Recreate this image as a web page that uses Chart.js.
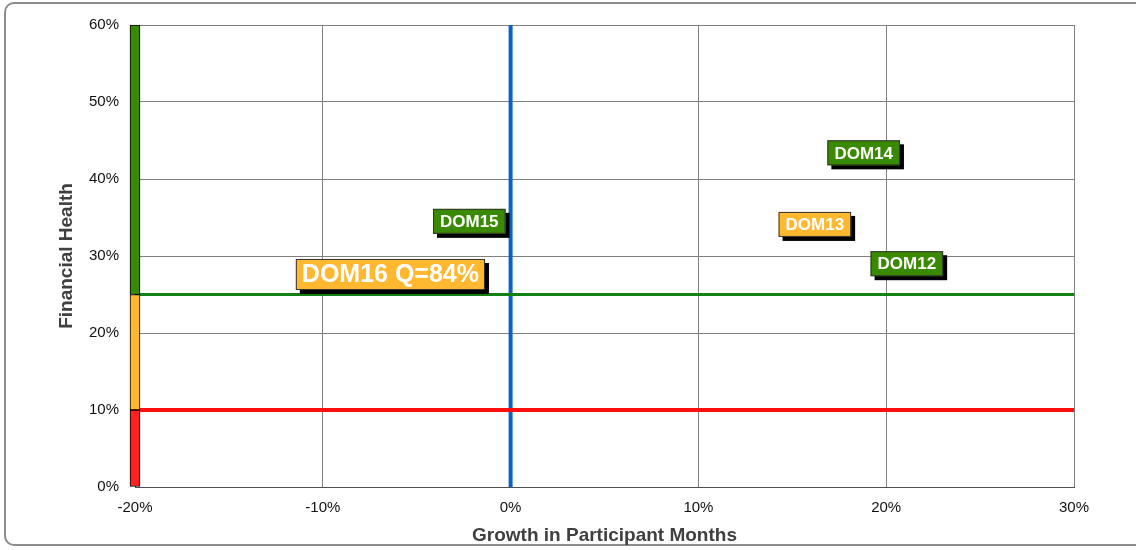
<!DOCTYPE html>
<html>
<head>
<meta charset="utf-8">
<script src="https://cdn.jsdelivr.net/npm/chart.js@4"></script>
<style>
  html, body { margin: 0; padding: 0; background: #fff; overflow: hidden; }
  #frame {
    position: absolute; left: 4px; top: 2px; width: 1160px; height: 544px;
    border: 2px solid #8c8c8c; border-radius: 10px; box-sizing: border-box;
  }
  #wrap { position: absolute; left: 0; top: 0; width: 1136px; height: 550px; }
</style>
</head>
<body>
<div id="frame"></div>
<div id="wrap"><canvas id="stage" width="1136" height="550"></canvas></div>
<script>
// 各DOMの位置 (成長率 %, 財務健全性 %)
const names = ['DOM12', 'DOM13', 'DOM14', 'DOM15', 'DOM16 Q=84%'];
const growth = [21.1, 16.2, 18.8, -2.2, -6.4];
const health = [29.0, 34.1, 43.4, 34.5, 27.6];
const status = ['good', 'warn', 'good', 'good', 'warn'];
const current = 'DOM16 Q=84%';

// しきい値
const redLimit = 10;
const greenLimit = 25;
const xTicks = [-20, -10, 0, 10, 20, 30];
const yTicks = [0, 10, 20, 30, 40, 50, 60];

const xMin = xTicks[0], xMax = xTicks[xTicks.length - 1];
const yMin = yTicks[0], yMax = yTicks[yTicks.length - 1];

const colors = { good: '#3a8a00', warn: '#ffb830' };

const pct = v => v + '%';
const font = '"Liberation Sans", Arial, sans-serif';

// ラベルの箱を描く
const tagPlugin = {
  id: 'tags',
  afterDatasetsDraw(chart) {
    const meta = chart.getDatasetMeta(6);
    const ctx = chart.ctx;
    ctx.save();
    meta.data.forEach((pt, i) => {
      const big = names[i] === current;
      const size = big ? 25 : 17;
      ctx.font = 'bold ' + size + 'px ' + font;
      const w = ctx.measureText(names[i]).width + (big ? 12 : 14);
      const h = big ? 31 : 25;
      const x = pt.x - w / 2, y = pt.y - h / 2;
      ctx.fillStyle = '#000';
      ctx.fillRect(x + 4, y + 4, w, h);
      ctx.fillStyle = colors[status[i]];
      ctx.fillRect(x, y, w, h);
      ctx.strokeStyle = '#333';
      ctx.lineWidth = 1;
      ctx.strokeRect(x + 0.5, y + 0.5, w - 1, h - 1);
      ctx.fillStyle = '#fff';
      ctx.textAlign = 'center';
      ctx.textBaseline = 'middle';
      ctx.fillText(names[i], pt.x, pt.y + 1);
    });
    ctx.restore();
  }
};

const band = (from, to, color) => ({
  type: 'bar',
  data: [{ x: xMin, y: [from, to] }],
  backgroundColor: color,
  borderColor: '#000',
  borderWidth: 1,
  borderSkipped: false,
  barThickness: 10,
  grouped: false,
  clip: false,
  order: 0
});

const hline = (v, color, w) => ({
  type: 'line',
  data: [{ x: xMin, y: v }, { x: xMax, y: v }],
  borderColor: color,
  borderWidth: w,
  pointRadius: 0,
  order: 2
});

const ctx = document.getElementById('stage').getContext('2d');
const myChart = new Chart(ctx, {
  type: 'scatter',
  data: {
    datasets: [
      band(yMin, redLimit, '#ff2020'),
      band(redLimit, greenLimit, '#ffb830'),
      band(greenLimit, yMax, '#3a8a00'),
      hline(greenLimit, '#138013', 3),
      hline(redLimit, '#ff1010', 4),
      {
        type: 'line',
        data: [{ x: 0, y: yMin }, { x: 0, y: yMax }],
        borderColor: '#0a64c8',
        borderWidth: 4,
        pointRadius: 0,
        order: 2
      },
      {
        type: 'scatter',
        data: growth.map((g, i) => ({ x: g, y: health[i] })),
        pointRadius: 0,
        order: 1
      }
    ]
  },
  options: {
    responsive: false,
    animation: false,
    layout: { padding: { top: 22, right: 62, left: 0, bottom: 0 } },
    plugins: { legend: { display: false }, tooltip: { enabled: false } },
    scales: {
      x: {
        type: 'linear',
        min: xMin, max: xMax,
        offset: false,
        afterFit: s => { s.height = 63; },
        grid: { color: '#808080', drawTicks: false, offset: false },
        border: { color: '#505050' },
        ticks: {
          stepSize: xTicks[1] - xTicks[0],
          autoSkip: false,
          padding: 12,
          color: '#111',
          font: { family: font, size: 15 },
          callback: pct
        },
        title: {
          display: true,
          text: 'Growth in Participant Months',
          color: '#404040',
          font: { family: font, size: 19, weight: 'bold' },
          padding: { top: 0, bottom: 3 }
        }
      },
      y: {
        type: 'linear',
        min: yMin, max: yMax,
        afterFit: s => { s.width = 135; },
        grid: { color: '#808080', drawTicks: false, offset: false },
        border: { color: '#505050' },
        ticks: {
          stepSize: yTicks[1] - yTicks[0],
          autoSkip: false,
          padding: 16,
          color: '#111',
          font: { family: font, size: 15 },
          callback: pct
        },
        title: {
          display: true,
          text: 'Financial Health',
          color: '#404040',
          font: { family: font, size: 19, weight: 'bold' },
          padding: { top: 55, bottom: 0 }
        }
      }
    }
  },
  plugins: [tagPlugin]
});
</script>
</body>
</html>
